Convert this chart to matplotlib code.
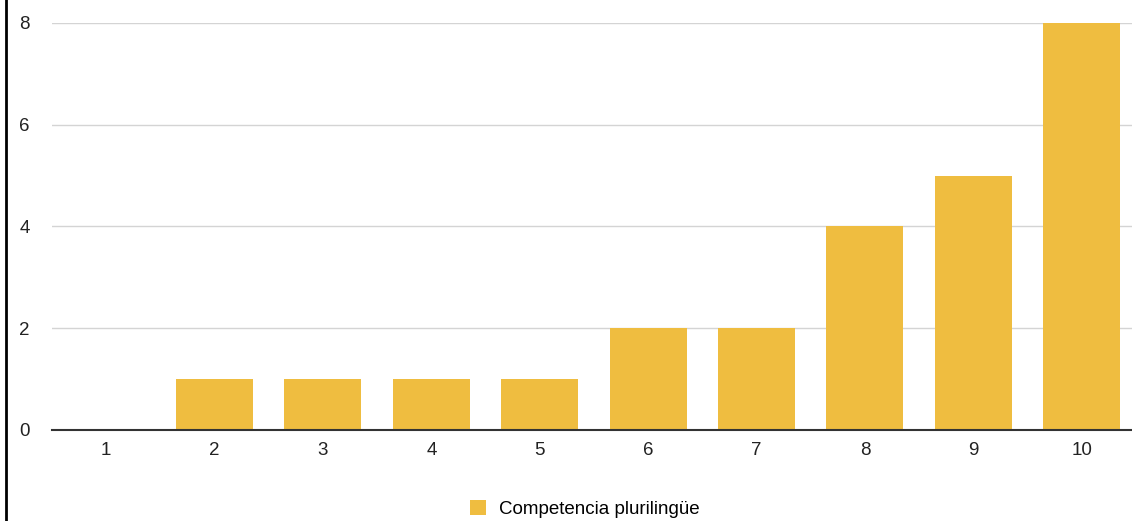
import matplotlib
matplotlib.use("Agg")
import matplotlib.pyplot as plt
from matplotlib.patches import Patch
from matplotlib.lines import Line2D

plt.rcParams['font.family'] = ['Liberation Sans', 'DejaVu Sans']

categories = ['1', '2', '3', '4', '5', '6', '7', '8', '9', '10']
values = [0, 1, 1, 1, 1, 2, 2, 4, 5, 8]
series_name = 'Competencia plurilingüe'
bar_color = '#EFBD40'

fig = plt.figure(figsize=(11.32, 5.21), dpi=100)
# the plot area runs a little past the right edge of the picture
ax = fig.add_axes([0.0459, 0.1747, 0.9576, 0.7812])

x = range(len(categories))
ax.bar(x, values, width=0.71, color=bar_color, zorder=2)

ax.set_xlim(-0.5, len(categories) - 0.5)
ax.set_ylim(0, 8)
ax.set_yticks([0, 2, 4, 6, 8])
ax.set_xticks(list(x))
ax.set_xticklabels(categories)

ax.yaxis.grid(True, color='#d4d4d4', linewidth=1, zorder=0)
ax.set_axisbelow(True)
for side in ['top', 'right', 'left']:
    ax.spines[side].set_visible(False)
ax.spines['bottom'].set_color('#333333')
ax.spines['bottom'].set_linewidth(1.5)
ax.spines['bottom'].set_zorder(3)

ax.tick_params(axis='y', length=0, pad=16, labelsize=13.5, labelcolor='#222222')
ax.tick_params(axis='x', length=0, pad=9, labelsize=13.5, labelcolor='#222222')

# legend below the plot
handle = Patch(facecolor=bar_color, edgecolor='none')
fig.legend([handle], [series_name], loc='center', bbox_to_anchor=(0.517, 0.023),
           frameon=False, fontsize=13.5, handlelength=0.85, handleheight=0.85,
           handletextpad=0.7)

# left border line
fig.add_artist(Line2D([0.005, 0.005], [0, 1], color='black', linewidth=2,
                      transform=fig.transFigure))

fig.savefig('out.png', dpi=100)
